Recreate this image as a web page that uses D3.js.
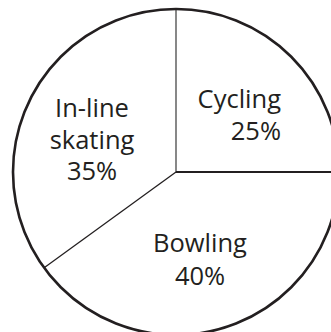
<!DOCTYPE html>
<html>
<head>
<meta charset="utf-8">
<script src="https://cdn.jsdelivr.net/npm/d3@7/dist/d3.min.js"></script>
<style>
  html, body { margin: 0; padding: 0; background: #fff; }
  svg { display: block; }
  text { font-family: "Open Sans", "Noto Sans", sans-serif; fill: #231f20; }
</style>
</head>
<body>
<svg id="chart" width="331" height="332"></svg>
<script>
// Activity shares (percent), clockwise from 12 o'clock
const categories = ["Cycling", "Bowling", "In-line skating"];
const values = [25, 40, 35];
const labelLines = [["Cycling", "25%"], ["Bowling", "40%"], ["In-line", "skating", "35%"]];

const W = 331, H = 332;
const cx = 176, cy = 172, R = 163;

const svg = d3.select("#chart");
const g = svg.append("g").attr("transform", `translate(${cx},${cy})`);

const pie = d3.pie().sort(null).value(d => d.value);
const arcs = pie(categories.map((c, i) => ({ name: c, value: values[i], lines: labelLines[i] })));
const arc = d3.arc().innerRadius(0).outerRadius(R);

// slices
g.selectAll("path.slice")
  .data(arcs)
  .join("path")
  .attr("class", "slice")
  .attr("d", arc)
  .attr("fill", "#fff");

// slice boundaries (radial lines at each start angle)
const boundaryStyle = [
  { w: 1.4, c: "#555" },
  { w: 2.0, c: "#231f20" },
  { w: 1.3, c: "#231f20" }
];
g.selectAll("line.edge")
  .data(arcs)
  .join("line")
  .attr("class", "edge")
  .attr("x1", 0).attr("y1", 0)
  .attr("x2", d => R * Math.sin(d.startAngle))
  .attr("y2", d => -R * Math.cos(d.startAngle))
  .attr("stroke", (d, i) => boundaryStyle[i].c)
  .attr("stroke-width", (d, i) => boundaryStyle[i].w);

// outer circle
g.append("circle")
  .attr("r", R)
  .attr("fill", "none")
  .attr("stroke", "#231f20")
  .attr("stroke-width", 2.6);

// labels
const labelPos = [
  { x: 281 - cx, y: 108 - cy, anchor: "end", dy: 32 },
  { x: 200 - cx, y: 252 - cy, anchor: "middle", dy: 33 },
  { x: 92 - cx, y: 117 - cy, anchor: "middle", dy: 31.5 }
];
arcs.forEach((d, i) => {
  const p = labelPos[i];
  const t = g.append("text")
    .attr("text-anchor", p.anchor)
    .attr("font-size", 25.5);
  d.data.lines.forEach((ln, j) => {
    t.append("tspan")
      .attr("x", p.x)
      .attr("y", p.y + j * p.dy)
      .text(ln);
  });
});
</script>
</body>
</html>
